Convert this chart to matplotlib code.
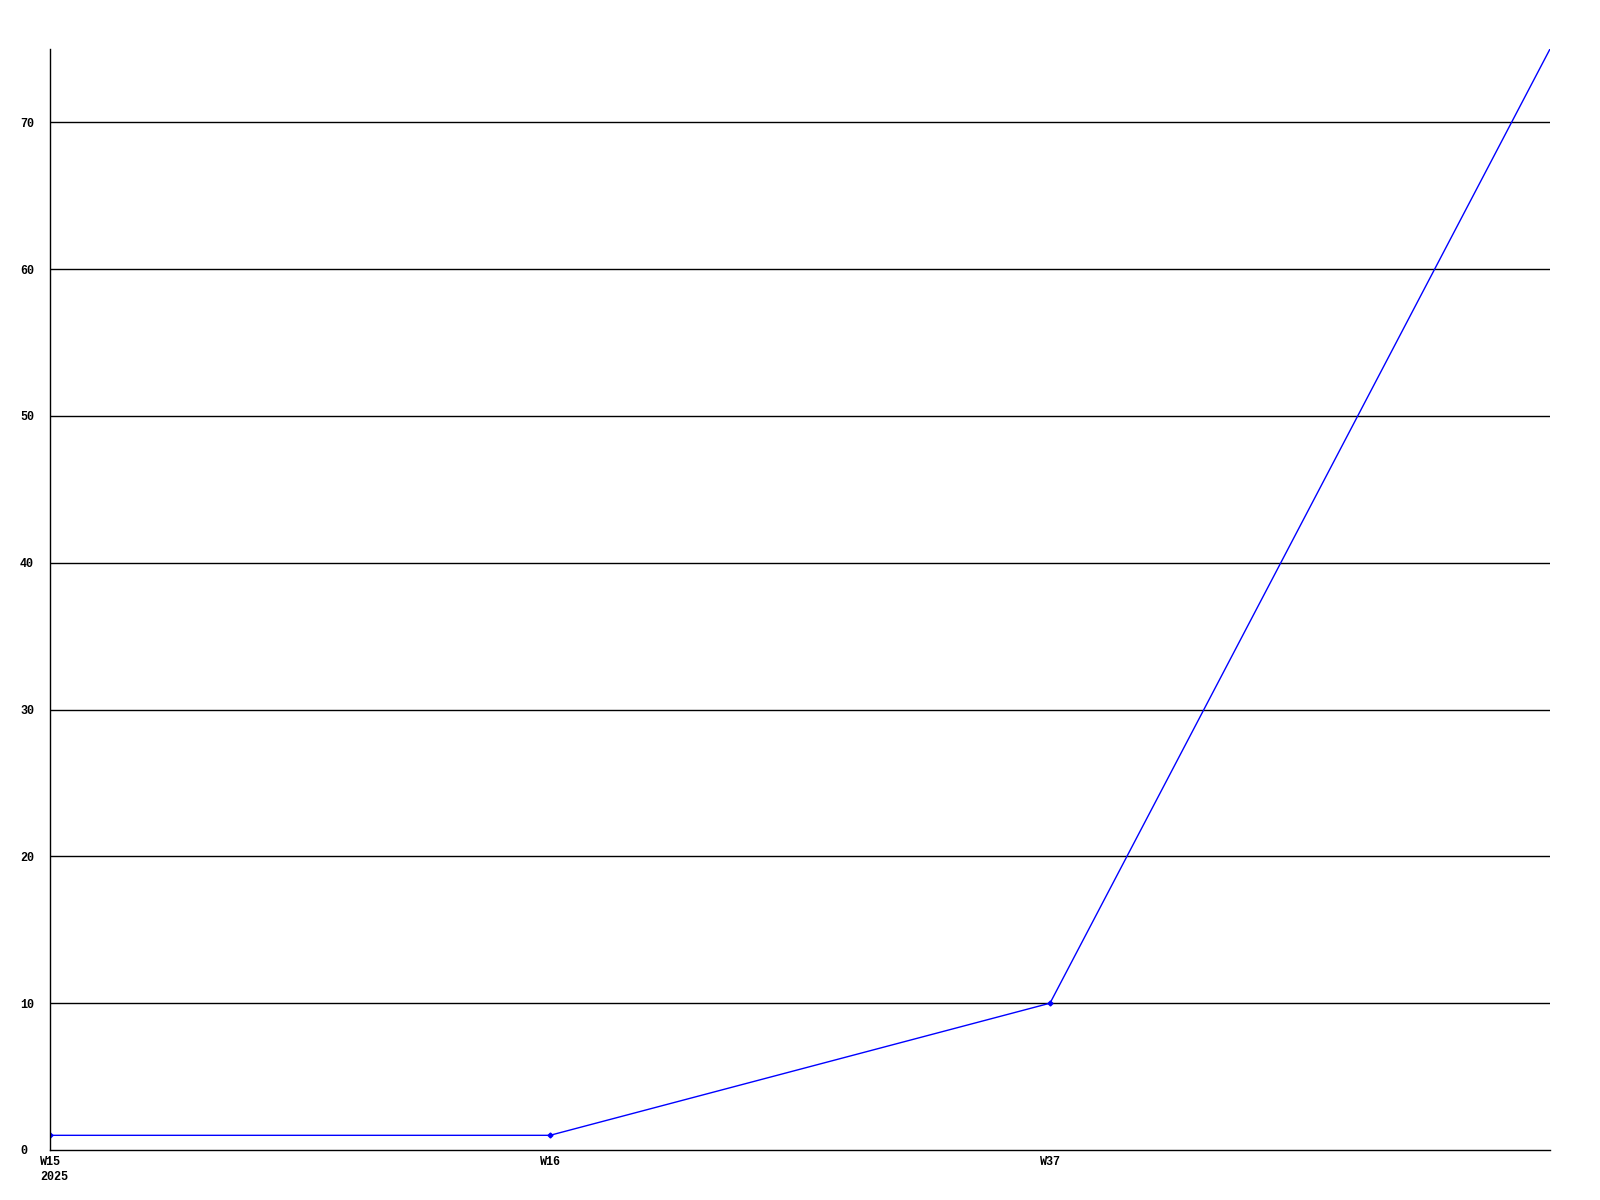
import matplotlib
matplotlib.use("Agg")
from matplotlib import pyplot as plt
from matplotlib.transforms import ScaledTranslation

weeks = ["W15\n2025", "W16", "W37", ""]
counts = [1, 1, 10, 75]
y_ticks = [0, 10, 20, 30, 40, 50, 60, 70]

fig = plt.figure(figsize=(16, 12), dpi=100)
# axes box measured in pixels: left 50, right 1550, top 49, bottom 1150
ax = fig.add_axes([50 / 1600, 1 - 1150 / 1200, 1500 / 1600, 1101 / 1200])

x = list(range(len(counts)))
ax.plot(x, counts, color="#0000ff", lw=1, marker="D", ms=2.5,
        markevery=[0, 1, 2])

ax.set_xlim(0, len(counts) - 1)
ax.set_ylim(0, 75)

for yv in y_ticks[1:]:
    ax.axhline(yv, color="black", lw=1, zorder=0)

for s in ["top", "right"]:
    ax.spines[s].set_visible(False)
for s in ["left", "bottom"]:
    ax.spines[s].set_color("black")
    ax.spines[s].set_linewidth(1)

font = dict(family="Liberation Mono", weight="bold", size=8.5)

ax.set_yticks(y_ticks)
ax.set_yticklabels([str(v) for v in y_ticks], **font)
ax.tick_params(axis="y", length=0, pad=0)
for lab in ax.get_yticklabels():
    lab.set_ha("left")
    lab.set_transform(lab.get_transform() + ScaledTranslation(-30 / 100, 0, fig.dpi_scale_trans))

ax.set_xticks(x)
ax.set_xticklabels(weeks, **font)
ax.tick_params(axis="x", length=0, pad=4)
for lab in ax.get_xticklabels():
    lab.set_ha("left")
    lab.set_multialignment("left")
    lab.set_linespacing(1.4)
    lab.set_transform(lab.get_transform() + ScaledTranslation(-10 / 100, 0, fig.dpi_scale_trans))

fig.savefig("out.png", dpi=100, facecolor="white")
